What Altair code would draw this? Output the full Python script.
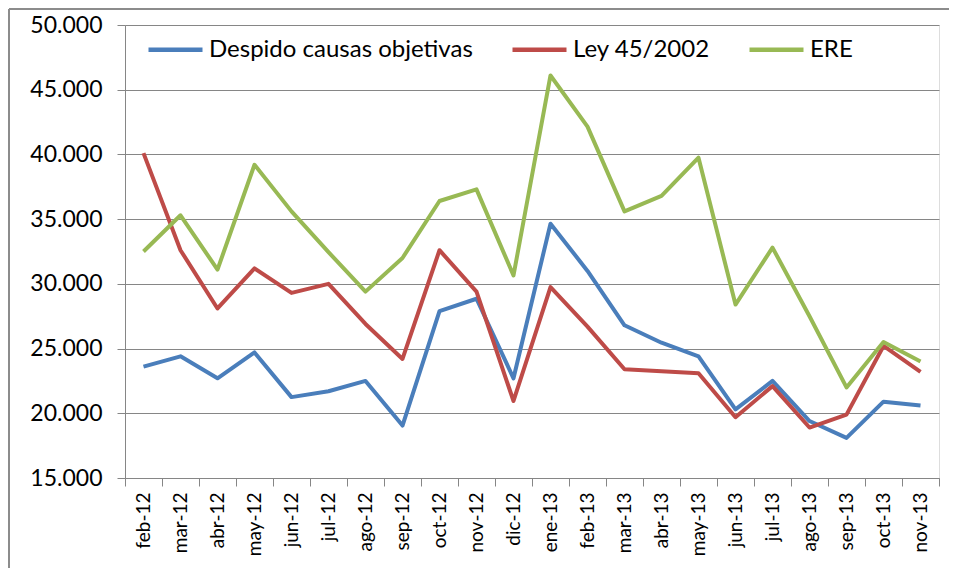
import altair as alt
import pandas as pd

months = ["feb-12", "mar-12", "abr-12", "may-12", "jun-12", "jul-12", "ago-12",
          "sep-12", "oct-12", "nov-12", "dic-12", "ene-13", "feb-13", "mar-13",
          "abr-13", "may-13", "jun-13", "jul-13", "ago-13", "sep-13", "oct-13",
          "nov-13"]

despido = [23600, 24400, 22700, 24700, 21250, 21700, 22500, 19050, 27900, 28850,
           22700, 34650, 31000, 26800, 25450, 24400, 20300, 22500, 19400, 18100,
           20900, 20600]
ley = [40100, 32600, 28100, 31200, 29300, 30000, 26900, 24200, 32600, 29400,
       20950, 29750, 26700, 23400, 23250, 23100, 19700, 22100, 18900, 19900,
       25200, 23200]
ere = [32500, 35300, 31100, 39200, 35600, 32450, 29400, 32000, 36400, 37300,
       30650, 46100, 42150, 35600, 36800, 39750, 28400, 32800, 27500, 22000,
       25500, 24000]

series_names = ["Despido causas objetivas", "Ley 45/2002", "ERE"]
series_colors = ["#4A7EBB", "#BE4B48", "#98B954"]

rows = []
for name, vals in zip(series_names, [despido, ley, ere]):
    for m, v in zip(months, vals):
        rows.append({"mes": m, "valor": v, "serie": name})
df = pd.DataFrame(rows)

FONT = "Lato"
W, H = 814, 453

lines = alt.Chart(df).mark_line(strokeWidth=4, strokeJoin="round").encode(
    x=alt.X("mes:N", sort=months, bandPosition=0.5,
            scale=alt.Scale(type="band", paddingInner=0, paddingOuter=0),
            axis=alt.Axis(title=None, labelAngle=270, labelAlign="right",
                          labelBaseline="middle", labelFontSize=19,
                          labelFont=FONT, labelColor="#000000", labelPadding=6,
                          tickBand="extent", tickSize=8, tickColor="#868686",
                          domainColor="#868686", grid=False)),
    y=alt.Y("valor:Q", scale=alt.Scale(domain=[15000, 50000], nice=False, zero=False),
            axis=alt.Axis(title=None, values=list(range(15000, 50001, 5000)),
                          labelExpr="replace(format(datum.value, ',.0f'), ',', '.')",
                          labelFontSize=23, labelFont=FONT, labelColor="#000000",
                          labelPadding=15, tickSize=8, tickColor="#868686",
                          domainColor="#868686", gridColor="#868686",
                          gridWidth=1)),
    color=alt.Color("serie:N", sort=series_names,
                    scale=alt.Scale(domain=series_names, range=series_colors),
                    legend=alt.Legend(title=None, orient="none", direction="horizontal",
                                      legendX=21, legendY=-5, symbolType="stroke",
                                      symbolSize=2916, symbolStrokeWidth=4.5,
                                      labelFontSize=24, labelFont=FONT,
                                      labelColor="#000000", labelOffset=4,
                                      labelLimit=0,
                                      columnPadding=30, padding=0)),
)

frame = pd.DataFrame({"k": [0]})
border_left = alt.Chart(frame).mark_rule(color="#8c8c8c", strokeWidth=2).encode(
    x=alt.value(-116), y=alt.value(-16), y2=alt.value(560))
border_top = alt.Chart(frame).mark_rule(color="#8c8c8c", strokeWidth=2).encode(
    x=alt.value(-116), x2=alt.value(840), y=alt.value(-16))

chart = alt.layer(border_left, border_top, lines).properties(
    width=W, height=H,
    autosize=alt.AutoSizeParams(type="none"),
    padding={"left": 117, "top": 17, "right": 10, "bottom": 90},
).configure_view(stroke=None).configure(background="white")

chart.save("out.html", embed_options={"renderer": "svg", "actions": False})
